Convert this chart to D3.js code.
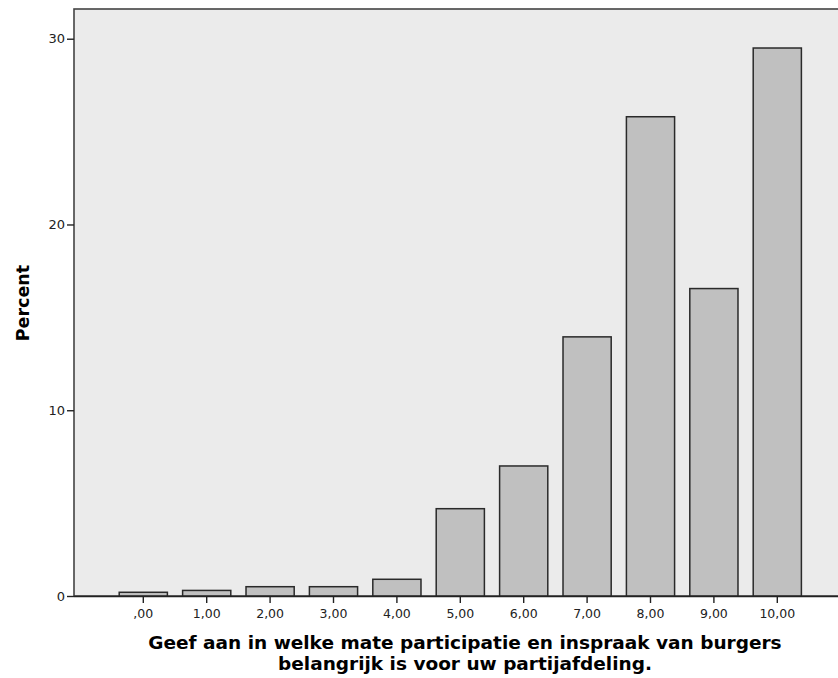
<!DOCTYPE html>
<html lang="nl">
<head>
    <meta charset="UTF-8">
    <title>Percent</title>
    <script src="https://d3js.org/d3.v7.min.js"></script>
    <style>
        body { margin: 0; background: #fff; }
        svg { display: block; font-family: "DejaVu Sans", sans-serif; }
    </style>
</head>
<body>
    <div id="chart"></div>
    <script>
        const categories = [",00", "1,00", "2,00", "3,00", "4,00", "5,00", "6,00", "7,00", "8,00", "9,00", "10,00"];
        const percents = [0.2, 0.3, 0.5, 0.5, 0.9, 4.7, 7.0, 13.95, 25.8, 16.55, 29.5];
        const yTicks = [0, 10, 20, 30];

        const svg = d3.select("#chart")
            .append("svg")
            .attr("width", 838)
            .attr("height", 678);

        // plot area
        const plotLeft = 74, plotTop = 9, plotBottom = 596, plotRight = 842;

        svg.append("rect")
            .attr("x", plotLeft)
            .attr("y", plotTop)
            .attr("width", plotRight - plotLeft)
            .attr("height", plotBottom - plotTop)
            .attr("fill", "#ebebeb")
            .attr("stroke", "#444")
            .attr("stroke-width", 1.6);

        const x = d3.scaleBand()
            .domain(categories)
            .range([111.6, 809])
            .paddingInner(0.24)
            .paddingOuter(0.12);

        const y = d3.scaleLinear()
            .domain([0, 31.6])
            .range([plotBottom, plotTop]);

        svg.selectAll(".bar")
            .data(categories)
            .enter()
            .append("rect")
            .attr("class", "bar")
            .attr("x", d => x(d))
            .attr("width", x.bandwidth())
            .attr("y", (d, i) => y(percents[i]))
            .attr("height", (d, i) => plotBottom - y(percents[i]))
            .attr("fill", "#c0c0c0")
            .attr("stroke", "#2a2a2a")
            .attr("stroke-width", 1.5);

        const xAxis = svg.append("g")
            .attr("transform", `translate(0, ${plotBottom})`)
            .call(d3.axisBottom(x).tickSize(7).tickSizeOuter(0));
        xAxis.select(".domain").attr("stroke", "#222").attr("stroke-width", 1.6)
            .attr("d", `M${plotLeft},0.5H${plotRight}`);
        xAxis.selectAll(".tick line").attr("stroke", "#222").attr("stroke-width", 1.4);
        xAxis.selectAll(".tick text")
            .attr("font-size", "12.5px")
            .attr("font-family", "DejaVu Sans")
            .attr("fill", "#222")
            .attr("dy", "0.95em");

        const yAxis = svg.append("g")
            .attr("transform", `translate(${plotLeft}, 0)`)
            .call(d3.axisLeft(y).tickValues(yTicks).tickSize(7).tickSizeOuter(0));
        yAxis.select(".domain").remove();
        yAxis.selectAll(".tick line").attr("stroke", "#222").attr("stroke-width", 1.4);
        yAxis.selectAll(".tick text")
            .attr("font-size", "13px")
            .attr("font-family", "DejaVu Sans")
            .attr("fill", "#222")
            .attr("x", -9);

        svg.append("text")
            .attr("transform", "translate(29, 303) rotate(-90)")
            .attr("text-anchor", "middle")
            .attr("font-size", "17.5px")
            .attr("font-weight", "bold")
            .text("Percent");

        // two-line axis title
        svg.append("text")
            .attr("x", 465)
            .attr("y", 649)
            .attr("text-anchor", "middle")
            .attr("font-size", "18.5px")
            .attr("font-weight", "bold")
            .text("Geef aan in welke mate participatie en inspraak van burgers");
        svg.append("text")
            .attr("x", 465)
            .attr("y", 670)
            .attr("text-anchor", "middle")
            .attr("font-size", "18.5px")
            .attr("font-weight", "bold")
            .text("belangrijk is voor uw partijafdeling.");
    </script>
</body>
</html>
